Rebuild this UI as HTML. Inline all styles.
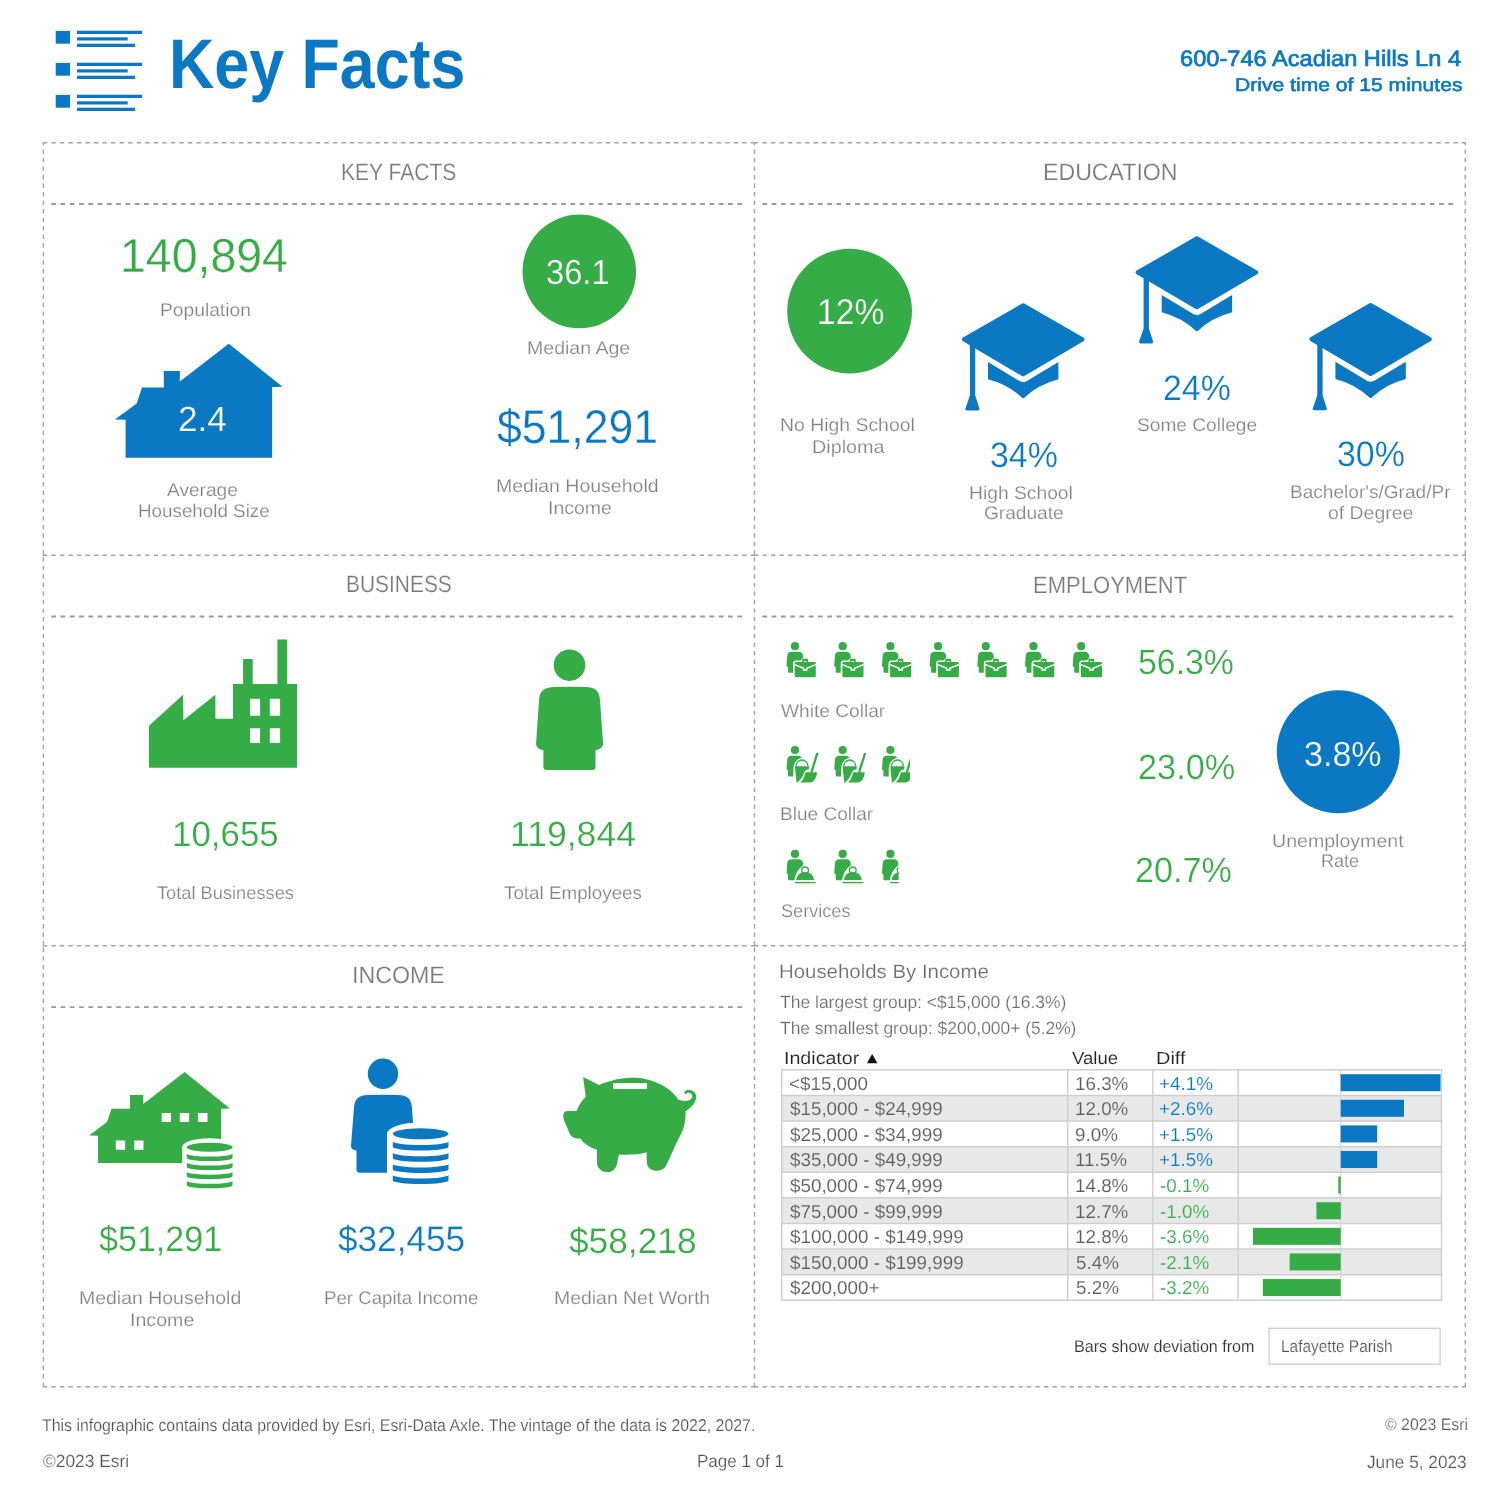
<!DOCTYPE html>
<html><head><meta charset="utf-8"><title>Key Facts</title>
<style>
html,body{margin:0;padding:0;background:#fff;}
body{width:1499px;height:1500px;position:relative;overflow:hidden;font-family:"Liberation Sans",sans-serif;}
svg{position:absolute;left:0;top:0;}
#tx{position:absolute;left:0;top:0;width:1499px;height:1500px;will-change:transform;}
.t{position:absolute;white-space:nowrap;text-rendering:geometricPrecision;line-height:1;transform-origin:0 0;font-family:"Liberation Sans",sans-serif;}
</style></head><body>
<svg width="1499" height="1500" viewBox="0 0 1499 1500">
<rect x="55.7" y="30.9" width="14.3" height="12.8" fill="#0a78c2"/>
<rect x="77" y="30.7" width="65" height="3.3" fill="#0a78c2"/>
<rect x="77" y="37.3" width="50.7" height="3.2" fill="#0a78c2"/>
<rect x="77" y="43.7" width="58" height="3.3" fill="#0a78c2"/>
<rect x="55.7" y="62.9" width="14.3" height="12.8" fill="#0a78c2"/>
<rect x="77" y="62.7" width="65" height="3.3" fill="#0a78c2"/>
<rect x="77" y="69.3" width="50.7" height="3.2" fill="#0a78c2"/>
<rect x="77" y="75.7" width="58" height="3.3" fill="#0a78c2"/>
<rect x="55.7" y="94.9" width="14.3" height="12.8" fill="#0a78c2"/>
<rect x="77" y="94.7" width="65" height="3.3" fill="#0a78c2"/>
<rect x="77" y="101.3" width="50.7" height="3.2" fill="#0a78c2"/>
<rect x="77" y="107.7" width="58" height="3.3" fill="#0a78c2"/>
<line x1="42.7" y1="142.8" x2="754.5" y2="142.8" stroke="#a3a3a3" stroke-width="1.5" stroke-dasharray="4.4 4.13" stroke-dashoffset="8.43"/>
<line x1="753.9" y1="142.8" x2="1466" y2="142.8" stroke="#a3a3a3" stroke-width="1.5" stroke-dasharray="4.4 4.13" stroke-dashoffset="0.00"/>
<line x1="42.7" y1="555.3" x2="754.5" y2="555.3" stroke="#a3a3a3" stroke-width="1.5" stroke-dasharray="4.4 4.13" stroke-dashoffset="8.43"/>
<line x1="753.9" y1="555.3" x2="1466" y2="555.3" stroke="#a3a3a3" stroke-width="1.5" stroke-dasharray="4.4 4.13" stroke-dashoffset="0.00"/>
<line x1="42.7" y1="945.7" x2="754.5" y2="945.7" stroke="#a3a3a3" stroke-width="1.5" stroke-dasharray="4.4 4.13" stroke-dashoffset="8.43"/>
<line x1="753.9" y1="945.7" x2="1466" y2="945.7" stroke="#a3a3a3" stroke-width="1.5" stroke-dasharray="4.4 4.13" stroke-dashoffset="0.00"/>
<line x1="42.7" y1="1386.8" x2="754.5" y2="1386.8" stroke="#a3a3a3" stroke-width="1.5" stroke-dasharray="4.4 4.13" stroke-dashoffset="8.43"/>
<line x1="753.9" y1="1386.8" x2="1466" y2="1386.8" stroke="#a3a3a3" stroke-width="1.5" stroke-dasharray="4.4 4.13" stroke-dashoffset="0.00"/>
<line x1="43.4" y1="142.1" x2="43.4" y2="555.3" stroke="#a3a3a3" stroke-width="1.4" stroke-dasharray="4.4 4.13" stroke-dashoffset="1.23"/>
<line x1="43.4" y1="555.3" x2="43.4" y2="945.7" stroke="#a3a3a3" stroke-width="1.4" stroke-dasharray="4.4 4.13" stroke-dashoffset="6.63"/>
<line x1="43.4" y1="945.7" x2="43.4" y2="1387.4" stroke="#a3a3a3" stroke-width="1.4" stroke-dasharray="4.4 4.13" stroke-dashoffset="6.63"/>
<line x1="754.5" y1="142.1" x2="754.5" y2="555.3" stroke="#a3a3a3" stroke-width="1.4" stroke-dasharray="4.4 4.13" stroke-dashoffset="1.23"/>
<line x1="754.5" y1="555.3" x2="754.5" y2="945.7" stroke="#a3a3a3" stroke-width="1.4" stroke-dasharray="4.4 4.13" stroke-dashoffset="6.63"/>
<line x1="754.5" y1="945.7" x2="754.5" y2="1387.4" stroke="#a3a3a3" stroke-width="1.4" stroke-dasharray="4.4 4.13" stroke-dashoffset="6.63"/>
<line x1="1465.3" y1="142.1" x2="1465.3" y2="555.3" stroke="#a3a3a3" stroke-width="1.4" stroke-dasharray="4.4 4.13" stroke-dashoffset="1.23"/>
<line x1="1465.3" y1="555.3" x2="1465.3" y2="945.7" stroke="#a3a3a3" stroke-width="1.4" stroke-dasharray="4.4 4.13" stroke-dashoffset="6.63"/>
<line x1="1465.3" y1="945.7" x2="1465.3" y2="1387.4" stroke="#a3a3a3" stroke-width="1.4" stroke-dasharray="4.4 4.13" stroke-dashoffset="6.63"/>
<line x1="51.3" y1="204" x2="742" y2="204" stroke="#9a9a9a" stroke-width="1.8" stroke-dasharray="4.7 4.57" stroke-dashoffset="0.00"/>
<line x1="51.3" y1="616.5" x2="742" y2="616.5" stroke="#9a9a9a" stroke-width="1.8" stroke-dasharray="4.7 4.57" stroke-dashoffset="0.00"/>
<line x1="51.3" y1="1007.2" x2="742" y2="1007.2" stroke="#9a9a9a" stroke-width="1.8" stroke-dasharray="4.7 4.57" stroke-dashoffset="0.00"/>
<line x1="762.4" y1="204" x2="1453.2" y2="204" stroke="#9a9a9a" stroke-width="1.8" stroke-dasharray="4.7 4.57" stroke-dashoffset="0.00"/>
<line x1="762.4" y1="616.5" x2="1453.2" y2="616.5" stroke="#9a9a9a" stroke-width="1.8" stroke-dasharray="4.7 4.57" stroke-dashoffset="0.00"/>
<circle cx="579.3" cy="271.4" r="56.8" fill="#36ac47"/>
<circle cx="849.6" cy="311.1" r="62.4" fill="#36ac47"/>
<circle cx="1338.3" cy="751.7" r="61.5" fill="#0a78c2"/>
<polygon fill="#0a78c2" points="228.8,343.7 282.5,386.7 272.1,387.1 272.1,457.7 125.6,457.7 125.6,419.7 114.9,419.4 136.7,403.4 142,387.4 163.8,387.4 163.8,371 179.8,371 179.8,381.6"/>
<g id="cap" fill="#0a78c2"><polygon points="1023.2,305.4 1082.3,339.4 1023.2,374.3 964.1,339.4" stroke="#0a78c2" stroke-width="4.2" stroke-linejoin="round"/><rect x="969.9" y="343" width="5.3" height="52"/><path d="M970.4,394 L974.7,394 L979.4,408.6 Q979.6,410.6 978,410.6 L966.8,410.6 Q965.2,410.6 965.4,408.6 Z"/><path d="M988,362.1 L1019.5,381.1 Q1023.2,383.2 1026.9,381.1 L1058.4,362.1 L1058.4,379.2 Q1038,384.5 1024.3,397.8 Q1023.2,398.8 1022.1,397.8 Q1008.4,384.5 988,379.2 Z"/></g>
<use href="#cap" transform="translate(173.7,-67)"/>
<use href="#cap" transform="translate(347.4,-0.3)"/>
<path fill="#36ac47" fill-rule="evenodd" d="M148.9,767.7 L148.9,725.8 L183.1,694.7 L183.4,720.3 L215.4,694.7 L215.4,718.7 L233,718.7 L233,684 L243.1,684 L243.1,659.1 L252.7,659.1 L252.7,684 L277.4,684 L277.4,639.6 L287.2,639.6 L287.2,684 L297,684 L297,767.7 Z M250.1,698.7 h10 v17.1 h-10 Z M269.8,698.7 h10.3 v17.1 h-10.3 Z M250.1,728.3 h10 v14.7 h-10 Z M269.8,728.3 h10.3 v14.7 h-10.3 Z"/>
<circle cx="569.5" cy="665.2" r="15.8" fill="#36ac47"/>
<path fill="#36ac47" d="M539.1,699.4 C539.8,690 546,687.3 554,687.1 Q570,686.3 586.1,687.1 C594,687.3 599.2,690 599.9,699.4 L603.1,743.1 C603.3,747 600,749.5 595.5,750.1 L595.5,767 Q595.5,770 592.5,770 L546.4,770 Q543.4,770 543.4,767 L543.4,750.1 C539,749.5 535.9,747 536.1,743.1 Z"/>
<g id="wc" fill="#36ac47"><circle cx="795" cy="646.2" r="4.1"/><path d="M787.2,656 Q787.4,651.8 792,651.8 L798.5,651.8 Q802.7,651.9 803,656.3 L803,657.9 L800.2,660.6 L795.2,660.6 Q793,661 793,663.5 L793,672.8 L789,672.8 Q788,672.8 788,671.8 L788,667 L786.5,666.3 Z"/><path d="M802.2,662 L802.2,659.8 Q802.2,658.8 803.2,658.8 L807,658.8 Q808,658.8 808,659.8 L808,662 L806.4,662 L806.4,660.9 L803.8,660.9 L803.8,662 Z"/><rect x="794.7" y="662" width="21.1" height="15.2" rx="1.2"/><path d="M794.2,664.4 L803.6,668.2 L803.6,670 L806.8,670 L806.8,668.2 L816.3,664.4" fill="none" stroke="#fff" stroke-width="1.5"/></g>
<use href="#wc" transform="translate(47.7,0)"/>
<use href="#wc" transform="translate(95.4,0)"/>
<use href="#wc" transform="translate(143.1,0)"/>
<use href="#wc" transform="translate(190.8,0)"/>
<use href="#wc" transform="translate(238.5,0)"/>
<use href="#wc" transform="translate(286.2,0)"/>
<clipPath id="cbc"><rect x="780" y="740" width="130" height="50"/></clipPath>
<g clip-path="url(#cbc)"><g id="bc" fill="#36ac47"><circle cx="795" cy="750" r="4.1"/><path d="M787.2,760 Q787.4,755.7 792,755.7 L797.6,755.7 Q800.6,755.8 801.8,757.6 Q797.4,759 794.8,763 Q793.5,765.2 793.4,768 L793.3,776.5 L789,776.5 Q788,776.5 788,775.5 L788,770.4 L786.6,769.6 Z"/><path d="M796,766.3 A6,6.3 0 0 1 808,766.3" fill="none" stroke="#36ac47" stroke-width="1.3"/><path d="M794.9,766.2 L809.1,766.2 L808.8,769.3 Q805.3,769.8 804.2,772.5 L802.6,776.3 Q801,779.6 798.4,781.5 L797.4,782.5 L796.5,782.5 Z"/><path d="M816.2,753 L818.6,753 L812.6,772.4 L810.2,772.4 Z"/><path d="M805.9,772.2 L816.2,772.2 Q817.2,772.2 817,773.4 Q816.3,777.5 814.5,780 Q812.8,782.4 810.5,782.4 L800.2,782.4 Q802.5,780.8 803.9,777.5 Q804.8,775 805.3,773 Z"/></g><use href="#bc" transform="translate(47.7,0)"/><use href="#bc" transform="translate(95.4,0)"/></g>
<clipPath id="csv"><rect x="780" y="840" width="118.6" height="50"/></clipPath>
<g clip-path="url(#csv)"><g id="sv" fill="#36ac47"><circle cx="795" cy="853.9" r="4.1"/><path d="M787.2,863.6 Q787.4,859.3 792,859.3 L798.6,859.3 Q802.7,859.4 803,863.6 L803,865.6 Q799.5,868 797.3,871.5 Q795,875.5 794.4,880.3 L789,880.3 Q788,880.3 788,879.3 L788,874.4 L786.6,873.6 Z"/><circle cx="805.1" cy="870.3" r="3.3" fill="none" stroke="#36ac47" stroke-width="1.35"/><path d="M796.3,880.1 A8.85,8.2 0 0 1 814,880.1 Z"/><rect x="794.8" y="881.9" width="20.9" height="1.4"/></g><use href="#sv" transform="translate(47.7,0)"/><use href="#sv" transform="translate(95.4,0)"/></g>
<path fill="#36ac47" fill-rule="evenodd" d="M184.6,1071.9 L229.9,1108.5 L221.2,1108.8 L221.2,1163 L97.9,1163 L97.9,1135.8 L89.1,1135.4 L107,1122.1 L111.5,1108.8 L129.9,1108.8 L129.9,1094.9 L143.3,1094.9 L143.3,1103.9 Z M161.7,1113 h9.3 v9.1 h-9.3 Z M179.8,1113 h9.4 v9.1 h-9.4 Z M197.9,1113 h9.6 v9.1 h-9.6 Z M115.8,1140.5 h9.3 v9.3 h-9.3 Z M134.2,1140.5 h9.3 v9.3 h-9.3 Z"/>
<path d="M182.15,1147.3 A27.5,9.1 0 0 1 237.15,1147.3 L237.15,1195 L182.15,1195 Z" fill="#fff"/>
<ellipse cx="209.65" cy="1147.3" rx="22.85" ry="4.5" fill="#36ac47"/><path d="M186.8,1153.6 A22.85,3.0 0 0 0 232.5,1153.6 L232.5,1158.1 A22.85,3.0 0 0 1 186.8,1158.1 Z" fill="#36ac47"/><path d="M186.8,1162.6 A22.85,3.0 0 0 0 232.5,1162.6 L232.5,1167.1 A22.85,3.0 0 0 1 186.8,1167.1 Z" fill="#36ac47"/><path d="M186.8,1171.7 A22.85,3.0 0 0 0 232.5,1171.7 L232.5,1176.2 A22.85,3.0 0 0 1 186.8,1176.2 Z" fill="#36ac47"/><path d="M186.8,1180.8 A22.85,3.0 0 0 0 232.5,1180.8 L232.5,1185.3 A22.85,3.0 0 0 1 186.8,1185.3 Z" fill="#36ac47"/>
<circle cx="383" cy="1073.8" r="15.2" fill="#0a78c2"/>
<path fill="#0a78c2" d="M354,1108 C354.5,1098.5 359,1095.3 368,1095.1 Q383,1094.6 398,1095.1 C407,1095.3 411.5,1098.5 412,1108 L413.2,1125 L413.2,1172.8 L360,1172.8 Q356.5,1172.8 356.5,1169.5 L356.5,1150.6 C353,1150 350.8,1148.5 351,1145.5 Z"/>
<path d="M387.0,1133.8 A33.65,11.3 0 0 1 454.29999999999995,1133.8 L454.29999999999995,1195 L387.0,1195 Z" fill="#fff"/>
<ellipse cx="420.65" cy="1133.8" rx="27.85" ry="5.5" fill="#0a78c2"/><path d="M392.79999999999995,1141.5 A27.85,3.5 0 0 0 448.5,1141.5 L448.5,1147.0 A27.85,3.5 0 0 1 392.79999999999995,1147.0 Z" fill="#0a78c2"/><path d="M392.79999999999995,1152.7 A27.85,3.5 0 0 0 448.5,1152.7 L448.5,1158.2 A27.85,3.5 0 0 1 392.79999999999995,1158.2 Z" fill="#0a78c2"/><path d="M392.79999999999995,1163.9 A27.85,3.5 0 0 0 448.5,1163.9 L448.5,1169.4 A27.85,3.5 0 0 1 392.79999999999995,1169.4 Z" fill="#0a78c2"/><path d="M392.79999999999995,1175.0 A27.85,3.5 0 0 0 448.5,1175.0 L448.5,1180.5 A27.85,3.5 0 0 1 392.79999999999995,1180.5 Z" fill="#0a78c2"/>
<g transform="translate(550,1060) scale(0.10673)"><path fill="#36ac47" d="M310,160 L460,235 C600,170 780,150 900,180 C1050,215 1150,290 1200,370 C1260,395 1335,385 1332,335 C1328,300 1285,300 1268,322 C1235,290 1300,262 1345,295 C1395,335 1370,420 1270,480 C1275,600 1240,680 1200,745 L1090,985 C1060,1045 970,1055 925,1010 C905,985 905,940 905,865 C820,890 720,892 645,885 L625,985 C600,1045 560,1052 530,1050 C480,1045 440,1010 440,960 L440,840 C380,820 320,790 285,735 C230,740 200,720 185,690 L130,560 C115,510 130,480 160,478 L250,478 C265,430 295,385 335,345 Z"/><rect x="592" y="215" width="318" height="56" rx="9" fill="#fff"/></g>
<rect x="781.7" y="1095.41" width="659.8" height="25.61" fill="#e8e8e8"/>
<rect x="781.7" y="1146.63" width="659.8" height="25.61" fill="#e8e8e8"/>
<rect x="781.7" y="1197.85" width="659.8" height="25.61" fill="#e8e8e8"/>
<rect x="781.7" y="1249.07" width="659.8" height="25.61" fill="#e8e8e8"/>
<line x1="781.0" y1="1069.80" x2="1442.2" y2="1069.80" stroke="#cfcfcf" stroke-width="1.5"/>
<line x1="781.0" y1="1095.41" x2="1442.2" y2="1095.41" stroke="#cfcfcf" stroke-width="1.5"/>
<line x1="781.0" y1="1121.02" x2="1442.2" y2="1121.02" stroke="#cfcfcf" stroke-width="1.5"/>
<line x1="781.0" y1="1146.63" x2="1442.2" y2="1146.63" stroke="#cfcfcf" stroke-width="1.5"/>
<line x1="781.0" y1="1172.24" x2="1442.2" y2="1172.24" stroke="#cfcfcf" stroke-width="1.5"/>
<line x1="781.0" y1="1197.85" x2="1442.2" y2="1197.85" stroke="#cfcfcf" stroke-width="1.5"/>
<line x1="781.0" y1="1223.46" x2="1442.2" y2="1223.46" stroke="#cfcfcf" stroke-width="1.5"/>
<line x1="781.0" y1="1249.07" x2="1442.2" y2="1249.07" stroke="#cfcfcf" stroke-width="1.5"/>
<line x1="781.0" y1="1274.68" x2="1442.2" y2="1274.68" stroke="#cfcfcf" stroke-width="1.5"/>
<line x1="781.0" y1="1300.29" x2="1442.2" y2="1300.29" stroke="#cfcfcf" stroke-width="1.5"/>
<line x1="781.7" y1="1069.8" x2="781.7" y2="1300.29" stroke="#cfcfcf" stroke-width="1.4"/>
<line x1="1067.7" y1="1069.8" x2="1067.7" y2="1300.29" stroke="#cfcfcf" stroke-width="1.4"/>
<line x1="1152.8" y1="1069.8" x2="1152.8" y2="1300.29" stroke="#cfcfcf" stroke-width="1.4"/>
<line x1="1238.2" y1="1069.8" x2="1238.2" y2="1300.29" stroke="#cfcfcf" stroke-width="1.4"/>
<line x1="1441.5" y1="1069.8" x2="1441.5" y2="1300.29" stroke="#cfcfcf" stroke-width="1.4"/>
<line x1="1340.7" y1="1069.8" x2="1340.7" y2="1300.29" stroke="#d4d4d4" stroke-width="1.2"/>
<rect x="1340.7" y="1074.20" width="99.8" height="17" fill="#0a78c2"/>
<rect x="1340.7" y="1099.81" width="63.3" height="17" fill="#0a78c2"/>
<rect x="1340.7" y="1125.42" width="36.5" height="17" fill="#0a78c2"/>
<rect x="1340.7" y="1151.03" width="36.5" height="17" fill="#0a78c2"/>
<rect x="1338.3" y="1176.64" width="2.4" height="17" fill="#36ac47"/>
<rect x="1316.4" y="1202.25" width="24.4" height="17" fill="#36ac47"/>
<rect x="1253.0" y="1227.86" width="87.7" height="17" fill="#36ac47"/>
<rect x="1289.6" y="1253.47" width="51.1" height="17" fill="#36ac47"/>
<rect x="1262.8" y="1279.08" width="77.9" height="17" fill="#36ac47"/>
<polygon points="866.9,1063.2 877.4,1063.2 872.15,1053.9" fill="#111"/>
<rect x="1269.1" y="1328.3" width="171" height="36" fill="#fff" stroke="#cfcfcf" stroke-width="1.3"/>
</svg>
<div id="tx">
<div class="t" style="left:168.88px;top:29px;font-size:70.13px;color:#0a78c2;font-weight:700;transform:scaleX(0.8944)">Key Facts</div>
<div class="t" style="left:1179.99px;top:48px;font-size:22.31px;color:#0a78c2;-webkit-text-stroke:0.7px #0a78c2;transform:scaleX(1.0594)">600-746 Acadian Hills Ln 4</div>
<div class="t" style="left:1235.25px;top:76px;font-size:18.53px;color:#0a78c2;-webkit-text-stroke:0.6px #0a78c2;transform:scaleX(1.1393)">Drive time of 15 minutes</div>
<div class="t" style="left:340.89px;top:161px;font-size:23.56px;color:#7a7a7a;-webkit-text-stroke:0.2px #fff;transform:scaleX(0.8938)">KEY FACTS</div>
<div class="t" style="left:1042.83px;top:161px;font-size:23.56px;color:#7a7a7a;-webkit-text-stroke:0.2px #fff;transform:scaleX(0.9826)">EDUCATION</div>
<div class="t" style="left:346.01px;top:573px;font-size:23.56px;color:#7a7a7a;-webkit-text-stroke:0.2px #fff;transform:scaleX(0.8883)">BUSINESS</div>
<div class="t" style="left:1032.92px;top:574px;font-size:23.56px;color:#7a7a7a;-webkit-text-stroke:0.2px #fff;transform:scaleX(0.9356)">EMPLOYMENT</div>
<div class="t" style="left:352.43px;top:964px;font-size:23.56px;color:#7a7a7a;-webkit-text-stroke:0.2px #fff;transform:scaleX(0.9848)">INCOME</div>
<div class="t" style="left:119.86px;top:233px;font-size:47.73px;color:#36ac47;-webkit-text-stroke:0.3px #fff;transform:scaleX(0.9734)">140,894</div>
<div class="t" style="left:160.34px;top:301px;font-size:18.18px;color:#828282;-webkit-text-stroke:0.2px #fff;transform:scaleX(1.0580)">Population</div>
<div class="t" style="left:545.98px;top:256px;font-size:34.92px;color:#ffffff;-webkit-text-stroke:0.25px #36ac47;transform:scaleX(0.9365)">36.1</div>
<div class="t" style="left:526.81px;top:339px;font-size:18.18px;color:#828282;-webkit-text-stroke:0.2px #fff;transform:scaleX(1.0754)">Median Age</div>
<div class="t" style="left:177.85px;top:402px;font-size:35.07px;color:#ffffff;-webkit-text-stroke:0.25px #0a78c2;transform:scaleX(1.0036)">2.4</div>
<div class="t" style="left:166.94px;top:481px;font-size:18.18px;color:#828282;-webkit-text-stroke:0.2px #fff;transform:scaleX(1.0506)">Average</div>
<div class="t" style="left:138.37px;top:502px;font-size:18.18px;color:#828282;-webkit-text-stroke:0.2px #fff;transform:scaleX(1.0346)">Household Size</div>
<div class="t" style="left:497.36px;top:404px;font-size:47.3px;color:#0a78c2;-webkit-text-stroke:0.3px #fff;transform:scaleX(0.9421)">$51,291</div>
<div class="t" style="left:496.22px;top:477px;font-size:18.18px;color:#828282;-webkit-text-stroke:0.2px #fff;transform:scaleX(1.0728)">Median Household</div>
<div class="t" style="left:548.02px;top:499px;font-size:18.18px;color:#828282;-webkit-text-stroke:0.2px #fff;transform:scaleX(1.0706)">Income</div>
<div class="t" style="left:816.60px;top:294px;font-size:35.94px;color:#ffffff;-webkit-text-stroke:0.25px #36ac47;transform:scaleX(0.9356)">12%</div>
<div class="t" style="left:779.72px;top:416px;font-size:18.18px;color:#828282;-webkit-text-stroke:0.2px #fff;transform:scaleX(1.0673)">No High School</div>
<div class="t" style="left:812.29px;top:438px;font-size:18.18px;color:#828282;-webkit-text-stroke:0.2px #fff;transform:scaleX(1.0893)">Diploma</div>
<div class="t" style="left:989.54px;top:438px;font-size:35.36px;color:#0a78c2;-webkit-text-stroke:0.25px #fff;transform:scaleX(0.9590)">34%</div>
<div class="t" style="left:968.73px;top:484px;font-size:18.18px;color:#828282;-webkit-text-stroke:0.2px #fff;transform:scaleX(1.0599)">High School</div>
<div class="t" style="left:983.64px;top:504px;font-size:18.18px;color:#828282;-webkit-text-stroke:0.2px #fff;transform:scaleX(1.0513)">Graduate</div>
<div class="t" style="left:1163.01px;top:371px;font-size:35.36px;color:#0a78c2;-webkit-text-stroke:0.25px #fff;transform:scaleX(0.9580)">24%</div>
<div class="t" style="left:1136.84px;top:416px;font-size:18.18px;color:#828282;-webkit-text-stroke:0.2px #fff;transform:scaleX(1.0517)">Some College</div>
<div class="t" style="left:1336.84px;top:437px;font-size:35.36px;color:#0a78c2;-webkit-text-stroke:0.25px #fff;transform:scaleX(0.9590)">30%</div>
<div class="t" style="left:1290.15px;top:483px;font-size:18.18px;color:#828282;-webkit-text-stroke:0.2px #fff;transform:scaleX(1.0496)">Bachelor's/Grad/Pr</div>
<div class="t" style="left:1328.23px;top:504px;font-size:18.18px;color:#828282;-webkit-text-stroke:0.2px #fff;transform:scaleX(1.0686)">of Degree</div>
<div class="t" style="left:171.82px;top:817px;font-size:35.07px;color:#36ac47;-webkit-text-stroke:0.25px #fff;transform:scaleX(0.9947)">10,655</div>
<div class="t" style="left:510.38px;top:817px;font-size:35.07px;color:#36ac47;-webkit-text-stroke:0.25px #fff;transform:scaleX(1.0149)">119,844</div>
<div class="t" style="left:156.85px;top:884px;font-size:18.18px;color:#828282;-webkit-text-stroke:0.2px #fff;transform:scaleX(1.0041)">Total Businesses</div>
<div class="t" style="left:504.15px;top:884px;font-size:18.18px;color:#828282;-webkit-text-stroke:0.2px #fff;transform:scaleX(1.0346)">Total Employees</div>
<div class="t" style="left:781.34px;top:702px;font-size:18.18px;color:#828282;-webkit-text-stroke:0.2px #fff;transform:scaleX(1.0526)">White Collar</div>
<div class="t" style="left:780.05px;top:805px;font-size:18.18px;color:#828282;-webkit-text-stroke:0.2px #fff;transform:scaleX(1.0481)">Blue Collar</div>
<div class="t" style="left:780.97px;top:902px;font-size:18.18px;color:#828282;-webkit-text-stroke:0.2px #fff;transform:scaleX(0.9977)">Services</div>
<div class="t" style="left:1137.94px;top:645px;font-size:35.07px;color:#36ac47;-webkit-text-stroke:0.25px #fff;transform:scaleX(0.9651)">56.3%</div>
<div class="t" style="left:1138.09px;top:750px;font-size:35.07px;color:#36ac47;-webkit-text-stroke:0.25px #fff;transform:scaleX(0.9788)">23.0%</div>
<div class="t" style="left:1134.90px;top:853px;font-size:35.07px;color:#36ac47;-webkit-text-stroke:0.25px #fff;transform:scaleX(0.9747)">20.7%</div>
<div class="t" style="left:1304.43px;top:738px;font-size:34.92px;color:#ffffff;-webkit-text-stroke:0.25px #0a78c2;transform:scaleX(0.9760)">3.8%</div>
<div class="t" style="left:1271.92px;top:832px;font-size:18.18px;color:#828282;-webkit-text-stroke:0.2px #fff;transform:scaleX(1.0770)">Unemployment</div>
<div class="t" style="left:1320.83px;top:852px;font-size:18.18px;color:#828282;-webkit-text-stroke:0.2px #fff;transform:scaleX(0.9910)">Rate</div>
<div class="t" style="left:98.80px;top:1222px;font-size:35.5px;color:#36ac47;-webkit-text-stroke:0.25px #fff;transform:scaleX(0.9599)">$51,291</div>
<div class="t" style="left:337.50px;top:1222px;font-size:35.5px;color:#0a78c2;-webkit-text-stroke:0.25px #fff;transform:scaleX(0.9899)">$32,455</div>
<div class="t" style="left:569.30px;top:1224px;font-size:35.5px;color:#36ac47;-webkit-text-stroke:0.25px #fff;transform:scaleX(0.9938)">$58,218</div>
<div class="t" style="left:79.22px;top:1289px;font-size:18.18px;color:#828282;-webkit-text-stroke:0.2px #fff;transform:scaleX(1.0708)">Median Household</div>
<div class="t" style="left:130.41px;top:1311px;font-size:18.18px;color:#828282;-webkit-text-stroke:0.2px #fff;transform:scaleX(1.0793)">Income</div>
<div class="t" style="left:323.78px;top:1289px;font-size:18.18px;color:#828282;-webkit-text-stroke:0.2px #fff;transform:scaleX(1.0264)">Per Capita Income</div>
<div class="t" style="left:553.82px;top:1289px;font-size:18.18px;color:#828282;-webkit-text-stroke:0.2px #fff;transform:scaleX(1.0688)">Median Net Worth</div>
<div class="t" style="left:778.75px;top:963px;font-size:19.35px;color:#6a6a6a;-webkit-text-stroke:0.2px #fff;transform:scaleX(1.0546)">Households By Income</div>
<div class="t" style="left:780.07px;top:994px;font-size:17.75px;color:#6a6a6a;-webkit-text-stroke:0.2px #fff;transform:scaleX(0.9856)">The largest group: &lt;$15,000 (16.3%)</div>
<div class="t" style="left:780.07px;top:1020px;font-size:17.75px;color:#6a6a6a;-webkit-text-stroke:0.2px #fff;transform:scaleX(0.9801)">The smallest group: $200,000+ (5.2%)</div>
<div class="t" style="left:784.27px;top:1050px;font-size:17.63px;color:#222222;-webkit-text-stroke:0.12px #fff;transform:scaleX(1.1139)">Indicator</div>
<div class="t" style="left:1071.80px;top:1050px;font-size:17.63px;color:#222222;-webkit-text-stroke:0.12px #fff;transform:scaleX(1.0516)">Value</div>
<div class="t" style="left:1155.84px;top:1050px;font-size:17.63px;color:#222222;-webkit-text-stroke:0.12px #fff;transform:scaleX(1.1323)">Diff</div>
<div class="t" style="left:1074.45px;top:1339px;font-size:16.9px;color:#333333;-webkit-text-stroke:0.12px #fff;transform:scaleX(0.9512)">Bars show deviation from</div>
<div class="t" style="left:1280.63px;top:1338px;font-size:17.17px;color:#525252;-webkit-text-stroke:0.2px #fff;transform:scaleX(0.9002)">Lafayette Parish</div>
<div class="t" style="left:41.59px;top:1417px;font-size:17.17px;color:#525252;-webkit-text-stroke:0.2px #fff;transform:scaleX(0.9249)">This infographic contains data provided by Esri, Esri-Data Axle. The vintage of the data is 2022, 2027.</div>
<div class="t" style="left:1385.04px;top:1417px;font-size:16.73px;color:#525252;-webkit-text-stroke:0.2px #fff;transform:scaleX(0.9488)">© 2023 Esri</div>
<div class="t" style="left:42.64px;top:1453px;font-size:17.75px;color:#525252;-webkit-text-stroke:0.2px #fff;transform:scaleX(0.9773)">©2023 Esri</div>
<div class="t" style="left:696.71px;top:1453px;font-size:17.75px;color:#525252;-webkit-text-stroke:0.2px #fff;transform:scaleX(0.9575)">Page 1 of 1</div>
<div class="t" style="left:1366.97px;top:1454px;font-size:17.75px;color:#525252;-webkit-text-stroke:0.2px #fff;transform:scaleX(0.9712)">June 5, 2023</div>
<div class="t" style="left:789.42px;top:1075px;font-size:18.74px;color:#5a5a5a;-webkit-text-stroke:0.15px #fff;transform:scaleX(1.0043)">&lt;$15,000</div>
<div class="t" style="left:1075.12px;top:1075px;font-size:18.74px;color:#5a5a5a;-webkit-text-stroke:0.15px #fff;transform:scaleX(1.0043)">16.3%</div>
<div class="t" style="left:1159.32px;top:1075px;font-size:18.74px;color:#0a78c2;-webkit-text-stroke:0.15px #fff;transform:scaleX(1.0043)">+4.1%</div>
<div class="t" style="left:790.30px;top:1100px;font-size:18.74px;color:#5a5a5a;-webkit-text-stroke:0.15px #e8e8e8;transform:scaleX(1.0043)">$15,000 - $24,999</div>
<div class="t" style="left:1075.12px;top:1100px;font-size:18.74px;color:#5a5a5a;-webkit-text-stroke:0.15px #e8e8e8;transform:scaleX(1.0043)">12.0%</div>
<div class="t" style="left:1159.32px;top:1100px;font-size:18.74px;color:#0a78c2;-webkit-text-stroke:0.15px #e8e8e8;transform:scaleX(1.0043)">+2.6%</div>
<div class="t" style="left:790.30px;top:1126px;font-size:18.74px;color:#5a5a5a;-webkit-text-stroke:0.15px #fff;transform:scaleX(1.0043)">$25,000 - $34,999</div>
<div class="t" style="left:1075.42px;top:1126px;font-size:18.74px;color:#5a5a5a;-webkit-text-stroke:0.15px #fff;transform:scaleX(1.0043)">9.0%</div>
<div class="t" style="left:1159.32px;top:1126px;font-size:18.74px;color:#0a78c2;-webkit-text-stroke:0.15px #fff;transform:scaleX(1.0043)">+1.5%</div>
<div class="t" style="left:790.30px;top:1151px;font-size:18.74px;color:#5a5a5a;-webkit-text-stroke:0.15px #e8e8e8;transform:scaleX(1.0043)">$35,000 - $49,999</div>
<div class="t" style="left:1075.12px;top:1151px;font-size:18.74px;color:#5a5a5a;-webkit-text-stroke:0.15px #e8e8e8;transform:scaleX(1.0043)">11.5%</div>
<div class="t" style="left:1159.32px;top:1151px;font-size:18.74px;color:#0a78c2;-webkit-text-stroke:0.15px #e8e8e8;transform:scaleX(1.0043)">+1.5%</div>
<div class="t" style="left:790.30px;top:1177px;font-size:18.74px;color:#5a5a5a;-webkit-text-stroke:0.15px #fff;transform:scaleX(1.0043)">$50,000 - $74,999</div>
<div class="t" style="left:1075.12px;top:1177px;font-size:18.74px;color:#5a5a5a;-webkit-text-stroke:0.15px #fff;transform:scaleX(1.0043)">14.8%</div>
<div class="t" style="left:1159.61px;top:1177px;font-size:18.74px;color:#36ac47;-webkit-text-stroke:0.15px #fff;transform:scaleX(1.0043)">-0.1%</div>
<div class="t" style="left:790.30px;top:1203px;font-size:18.74px;color:#5a5a5a;-webkit-text-stroke:0.15px #e8e8e8;transform:scaleX(1.0043)">$75,000 - $99,999</div>
<div class="t" style="left:1075.12px;top:1203px;font-size:18.74px;color:#5a5a5a;-webkit-text-stroke:0.15px #e8e8e8;transform:scaleX(1.0043)">12.7%</div>
<div class="t" style="left:1159.61px;top:1203px;font-size:18.74px;color:#36ac47;-webkit-text-stroke:0.15px #e8e8e8;transform:scaleX(1.0043)">-1.0%</div>
<div class="t" style="left:790.30px;top:1228px;font-size:18.74px;color:#5a5a5a;-webkit-text-stroke:0.15px #fff;transform:scaleX(1.0043)">$100,000 - $149,999</div>
<div class="t" style="left:1075.12px;top:1228px;font-size:18.74px;color:#5a5a5a;-webkit-text-stroke:0.15px #fff;transform:scaleX(1.0043)">12.8%</div>
<div class="t" style="left:1159.61px;top:1228px;font-size:18.74px;color:#36ac47;-webkit-text-stroke:0.15px #fff;transform:scaleX(1.0043)">-3.6%</div>
<div class="t" style="left:790.30px;top:1254px;font-size:18.74px;color:#5a5a5a;-webkit-text-stroke:0.15px #e8e8e8;transform:scaleX(1.0043)">$150,000 - $199,999</div>
<div class="t" style="left:1075.71px;top:1254px;font-size:18.74px;color:#5a5a5a;-webkit-text-stroke:0.15px #e8e8e8;transform:scaleX(1.0043)">5.4%</div>
<div class="t" style="left:1159.61px;top:1254px;font-size:18.74px;color:#36ac47;-webkit-text-stroke:0.15px #e8e8e8;transform:scaleX(1.0043)">-2.1%</div>
<div class="t" style="left:790.30px;top:1279px;font-size:18.74px;color:#5a5a5a;-webkit-text-stroke:0.15px #fff;transform:scaleX(1.0043)">$200,000+</div>
<div class="t" style="left:1075.71px;top:1279px;font-size:18.74px;color:#5a5a5a;-webkit-text-stroke:0.15px #fff;transform:scaleX(1.0043)">5.2%</div>
<div class="t" style="left:1159.61px;top:1279px;font-size:18.74px;color:#36ac47;-webkit-text-stroke:0.15px #fff;transform:scaleX(1.0043)">-3.2%</div>
</div>
</body></html>
